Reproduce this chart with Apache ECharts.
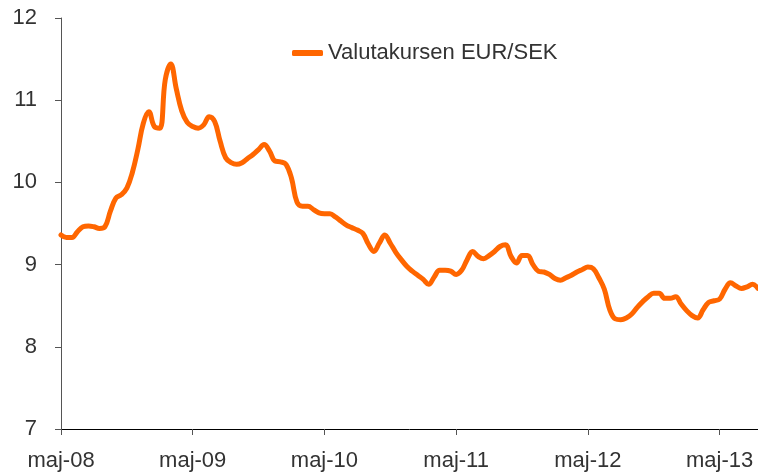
<!DOCTYPE html>
<html>
<head>
<meta charset="utf-8">
<script src="https://cdn.jsdelivr.net/npm/echarts@6/dist/echarts.min.js"></script>
<style>
  html, body { margin: 0; padding: 0; background: #fff; }
  #chart { width: 758px; height: 472px; }
</style>
</head>
<body>
<div id="chart"></div>
<script>
// EUR/SEK, two readings per month from maj-08
const startYear = 2008;
const startMonth = 4; // maj (0-based)
const yTicks = [7, 8, 9, 10, 11, 12];
const seriesName = "Valutakursen EUR/SEK";
const eurSek = [
  9.36, 9.33, 9.33, 9.40, 9.46, 9.47, 9.46, 9.44, 9.46, 9.65,
  9.81, 9.85, 9.93, 10.12, 10.40, 10.72, 10.86, 10.68, 10.66, 11.25,
  11.44, 11.14, 10.87, 10.73, 10.68, 10.66, 10.70, 10.80, 10.74, 10.50,
  10.30, 10.24, 10.22, 10.24, 10.29, 10.34, 10.40, 10.46, 10.38, 10.26,
  10.25, 10.22, 10.05, 9.76, 9.71, 9.71, 9.67, 9.63, 9.62, 9.62,
  9.58, 9.53, 9.48, 9.45, 9.42, 9.38, 9.25, 9.16, 9.26, 9.36,
  9.26, 9.15, 9.06, 8.98, 8.92, 8.87, 8.82, 8.76, 8.85, 8.93,
  8.93, 8.92, 8.88, 8.93, 9.06, 9.16, 9.10, 9.07, 9.11, 9.16,
  9.22, 9.24, 9.10, 9.02, 9.11, 9.11, 9.00, 8.92, 8.91, 8.88,
  8.83, 8.81, 8.84, 8.87, 8.91, 8.94, 8.97, 8.95, 8.84, 8.70,
  8.45, 8.34, 8.33, 8.35, 8.40, 8.48, 8.55, 8.61, 8.65, 8.65,
  8.59, 8.59, 8.61, 8.52, 8.44, 8.38, 8.35, 8.45, 8.54, 8.56,
  8.58, 8.70, 8.78, 8.74, 8.71, 8.73, 8.76, 8.71
];

const monthNames = ["jan", "feb", "mar", "apr", "maj", "jun", "jul", "aug", "sep", "okt", "nov", "dec"];
const categories = eurSek.map((_, i) => {
  const m = startMonth + Math.floor(i / 2);
  const y = startYear + Math.floor(m / 12);
  return monthNames[m % 12] + "-" + String(y % 100).padStart(2, "0");
});

const font = "Liberation Sans";
const chart = echarts.init(document.getElementById("chart"));
chart.setOption({
  animation: false,
  grid: { left: 61, right: 0, top: 18, bottom: 43, containLabel: false },
  legend: {
    data: [{ name: seriesName, icon: "roundRect" }],
    left: 287,
    top: 37,
    itemWidth: 31,
    itemHeight: 6,
    itemGap: 4,
    textStyle: { fontFamily: font, fontSize: 22, color: "#333" }
  },
  xAxis: {
    type: "category",
    data: categories,
    boundaryGap: false,
    axisLine: { lineStyle: { color: "#000", width: 1 } },
    axisTick: { interval: 23, length: 6, lineStyle: { color: "#555" } },
    axisLabel: {
      interval: 23,
      margin: 21,
      fontFamily: font,
      fontSize: 22,
      color: "#333"
    },
    splitLine: { show: false }
  },
  yAxis: {
    type: "value",
    min: yTicks[0],
    max: yTicks[yTicks.length - 1],
    interval: 1,
    axisLine: { show: true, lineStyle: { color: "#555", width: 1 } },
    axisTick: { show: true, length: 6, lineStyle: { color: "#555" } },
    axisLabel: { margin: 24, fontFamily: font, fontSize: 22, color: "#333" },
    splitLine: { show: false }
  },
  series: [{
    name: seriesName,
    type: "line",
    data: eurSek,
    smooth: 0.4,
    symbol: "none",
    lineStyle: { color: "#FF6600", width: 5, cap: "round", join: "round" },
    itemStyle: { color: "#FF6600" }
  }]
});
</script>
</body>
</html>
